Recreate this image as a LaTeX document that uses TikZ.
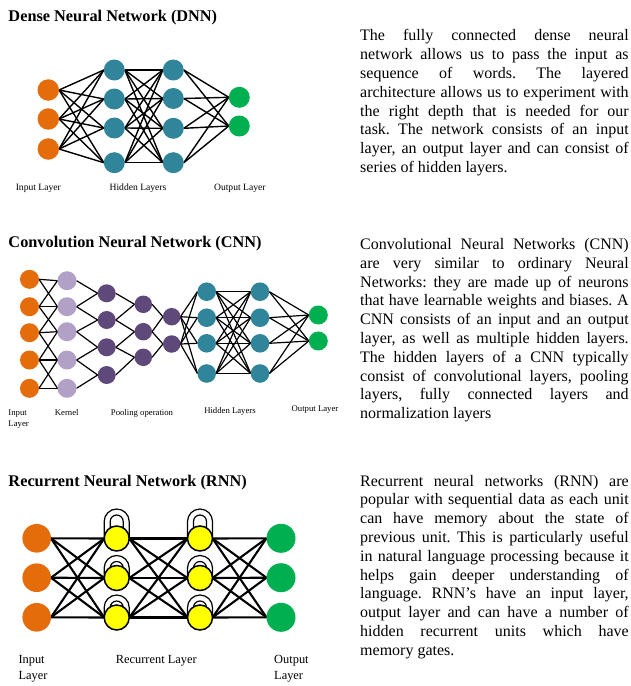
\documentclass[tikz,border=0pt]{standalone}
\usepackage{fontspec}
\setmainfont{Liberation Serif}
\usetikzlibrary{backgrounds}
\definecolor{inorange}{HTML}{E46C0A}
\definecolor{hidteal}{HTML}{31859B}
\definecolor{outgreen}{HTML}{00B050}
\definecolor{kernlilac}{HTML}{B2A1C7}
\definecolor{poolplum}{HTML}{5F497A}
\definecolor{recyellow}{HTML}{FFFF00}
\newcommand\paraprep{\frenchspacing\hyphenpenalty=10000\relax\tolerance=10000\relax}
\begin{document}
\begin{tikzpicture}[x=1pt,y=-1pt,
  neuron/.style={circle,inner sep=0pt,outer sep=0pt,draw=none},
  title/.style={anchor=base west,inner sep=0pt,font=\fontsize{16.3}{19}\selectfont\bfseries},
  para/.style={anchor=north west,inner sep=0pt,text width=268.5pt,align=justify,
    font=\fontsize{16}{18.8}\selectfont},
  dnnlabel/.style={anchor=base,inner sep=0pt,font=\fontsize{9.6}{11}\selectfont},
  cnnlabel/.style={anchor=base,inner sep=0pt,font=\fontsize{8.7}{11}\selectfont},
  rnnlabel/.style={anchor=base,inner sep=0pt,font=\fontsize{12.4}{16}\selectfont},
  dnnedge/.style={line width=1.4pt,black},
  cnnedge/.style={line width=1.2pt,black},
  rnnedge/.style={line width=2.1pt,black},
  recloop/.style={line width=1.2pt,black},
]
\useasboundingbox (0,0) rectangle (631,686);

% ---------------- titles ----------------
\node[title] (t1) at (8.3,21) {Dense Neural Network (DNN)};
\node[title] (t2) at (8.3,247) {Convolution Neural Network (CNN)};
\node[title] (t3) at (8.3,486) {Recurrent Neural Network (RNN)};

% ---------------- descriptions ----------------
\node[para] (p1) at (360,29.4) {\paraprep The fully connected dense neural\linebreak
network allows us to pass the input as\linebreak
sequence of words. The layered\linebreak
architecture allows us to experiment with\linebreak
the right depth that is needed for our\linebreak
task. The network consists of an input\linebreak
layer, an output layer and can consist of\linebreak
series of hidden layers.};

\node[para] (p2) at (360,238.1) {\paraprep Convolutional Neural Networks (CNN)\linebreak
are very similar to ordinary Neural\linebreak
Networks: they are made up of neurons\linebreak
that have learnable weights and biases. A\linebreak
CNN consists of an input and an output\linebreak
layer, as well as multiple hidden layers.\linebreak
The hidden layers of a CNN typically\linebreak
consist of convolutional layers, pooling\linebreak
layers, fully connected layers and\linebreak
normalization layers};

\node[para] (p3) at (360,474.8) {\paraprep Recurrent neural networks (RNN) are\linebreak
popular with sequential data as each unit\linebreak
can have memory about the state of\linebreak
previous unit. This is particularly useful\linebreak
in natural language processing because it\linebreak
helps gain deeper understanding of\linebreak
language. RNN’s have an input layer,\linebreak
output layer and can have a number of\linebreak
hidden recurrent units which have\linebreak
memory gates.};

% ---------------- DNN ----------------
\foreach \y [count=\i] in {90,119,149}
  \node[neuron,fill=inorange,minimum size=21.5pt] (di\i) at (48.3,\y) {};
\foreach \y [count=\i] in {70,99,128,162.7}
  \node[neuron,fill=hidteal,minimum size=21pt] (da\i) at (114.3,\y) {};
\foreach \y [count=\i] in {70,98.5,128.3,162.7}
  \node[neuron,fill=hidteal,minimum size=21pt] (db\i) at (173.3,\y) {};
\foreach \y [count=\i] in {97.3,126}
  \node[neuron,fill=outgreen,minimum size=21pt] (do\i) at (239.3,\y) {};

\begin{scope}[on background layer]
  \foreach \a in {1,2,3} \foreach \b in {1,...,4}
    \draw[dnnedge] (di\a.east) -- (da\b.west);
  \foreach \a in {1,...,4} \foreach \b in {1,...,4}
    \draw[dnnedge] (da\a.east) -- (db\b.west);
  \foreach \a in {1,...,4} \foreach \b in {1,2}
    \draw[dnnedge] (db\a.east) -- (do\b.west);
\end{scope}

\node[dnnlabel] (dl1) at (38.3,190.5) {Input Layer};
\node[dnnlabel] (dl2) at (138,190.5) {Hidden Layers};
\node[dnnlabel] (dl3) at (239.8,190.5) {Output Layer};

% ---------------- CNN ----------------
\foreach \y [count=\i] in {279.3,306.7,332.7,360,388.3}
  \node[neuron,fill=inorange,minimum size=19pt] (ci\i) at (29.5,\y) {};
\foreach \y [count=\i] in {280.7,306.7,331.7,360,388.3}
  \node[neuron,fill=kernlilac,minimum size=19pt] (ck\i) at (67,\y) {};
\foreach \y [count=\i] in {293.3,320,347.3,375}
  \node[neuron,fill=poolplum,minimum size=18pt] (cp\i) at (106.7,\y) {};
\foreach \y [count=\i] in {304.3,331.7,357.3}
  \node[neuron,fill=poolplum,minimum size=17.5pt] (cq\i) at (143.3,\y) {};
\foreach \y [count=\i] in {316.7,344}
  \node[neuron,fill=poolplum,minimum size=17.5pt] (cr\i) at (171.7,\y) {};
\foreach \y [count=\i] in {291.7,317.7,343.3,373.5}
  \node[neuron,fill=hidteal,minimum size=18.6pt] (ca\i) at (206.7,\y) {};
\foreach \y [count=\i] in {291.7,317.7,343.3,373.5}
  \node[neuron,fill=hidteal,minimum size=18.6pt] (cb\i) at (260,\y) {};
\foreach \y [count=\i] in {315,341}
  \node[neuron,fill=outgreen,minimum size=19pt] (co\i) at (318.3,\y) {};

\begin{scope}[on background layer]
  % local (kernel) connections
  \foreach \a in {1,...,5} \foreach \b in {1,...,5} {
    \pgfmathtruncatemacro\gap{abs(\a-\b)}
    \ifnum\gap<2 \draw[cnnedge] (ci\a.east) -- (ck\b.west); \fi
  }
  % pooling: every unit sees two neighbours
  \foreach \b [evaluate=\b as \c using int(\b+1)] in {1,...,4} {
    \draw[cnnedge] (ck\b.east) -- (cp\b.west);
    \draw[cnnedge] (ck\c.east) -- (cp\b.west);
  }
  \foreach \b [evaluate=\b as \c using int(\b+1)] in {1,2,3} {
    \draw[cnnedge] (cp\b.east) -- (cq\b.west);
    \draw[cnnedge] (cp\c.east) -- (cq\b.west);
  }
  \foreach \b [evaluate=\b as \c using int(\b+1)] in {1,2} {
    \draw[cnnedge] (cq\b.east) -- (cr\b.west);
    \draw[cnnedge] (cq\c.east) -- (cr\b.west);
  }
  % fully connected part
  \foreach \a in {1,2} \foreach \b in {1,...,4}
    \draw[cnnedge] (cr\a.east) -- (ca\b.west);
  \foreach \a in {1,...,4} \foreach \b in {1,...,4}
    \draw[cnnedge] (ca\a.east) -- (cb\b.west);
  \foreach \a in {1,...,4} \foreach \b in {1,2}
    \draw[cnnedge] (cb\a.east) -- (co\b.west);
\end{scope}

% multi-line labels sit on the baseline of their last line
\node[cnnlabel,anchor=base west,align=left] (cl1) at (8.3,426) {Input\\Layer};
\node[cnnlabel] (cl2) at (66.7,415) {Kernel};
\node[cnnlabel] (cl3) at (142,415) {Pooling operation};
\node[cnnlabel] (cl4) at (230,413) {Hidden Layers};
\node[cnnlabel] (cl5) at (315,411) {Output Layer};

% ---------------- RNN ----------------
\foreach \y [count=\i] in {538.3,577.7,617.3}
  \node[neuron,fill=inorange,minimum size=28.6pt] (ri\i) at (36.7,\y) {};
\foreach \y [count=\i] in {538.5,578,617.5}
  \node[neuron,fill=recyellow,draw=black,line width=1.5pt,minimum size=25pt] (ra\i) at (116.7,\y) {};
\foreach \y [count=\i] in {538.5,578,617.5}
  \node[neuron,fill=recyellow,draw=black,line width=1.5pt,minimum size=25pt] (rb\i) at (200,\y) {};
\foreach \y [count=\i] in {538.3,577.7,617.3}
  \node[neuron,fill=outgreen,minimum size=29pt] (ro\i) at (281,\y) {};

\begin{scope}[on background layer]
  \foreach \a in {1,2,3} \foreach \b in {1,2,3} {
    \draw[rnnedge] (ri\a.east) -- (ra\b.west);
    \draw[rnnedge] (ra\a.east) -- (rb\b.west);
    \draw[rnnedge] (rb\a.east) -- (ro\b.west);
  }
  % self-loops of the recurrent units
  \foreach \n in {ra,rb} \foreach \i/\lift in {1/17,2/10,3/10} {
    \draw[recloop] ([xshift=-12.5pt]\n\i.center) -- ++(0,-\lift)
      arc[start angle=180,end angle=360,radius=12.5] -- ++(0,\lift);
    \draw[recloop] ([xshift=-6.5pt]\n\i.center) -- ++(0,-\lift)
      arc[start angle=180,end angle=360,radius=6.5] -- ++(0,\lift);
  }
\end{scope}

\node[rnnlabel,anchor=base west,align=left] (rl1) at (18.3,679) {Input\\Layer};
\node[rnnlabel] (rl2) at (156.3,663) {Recurrent Layer};
\node[rnnlabel,anchor=base west,align=left] (rl3) at (274,679) {Output\\Layer};
\end{tikzpicture}
\end{document}
